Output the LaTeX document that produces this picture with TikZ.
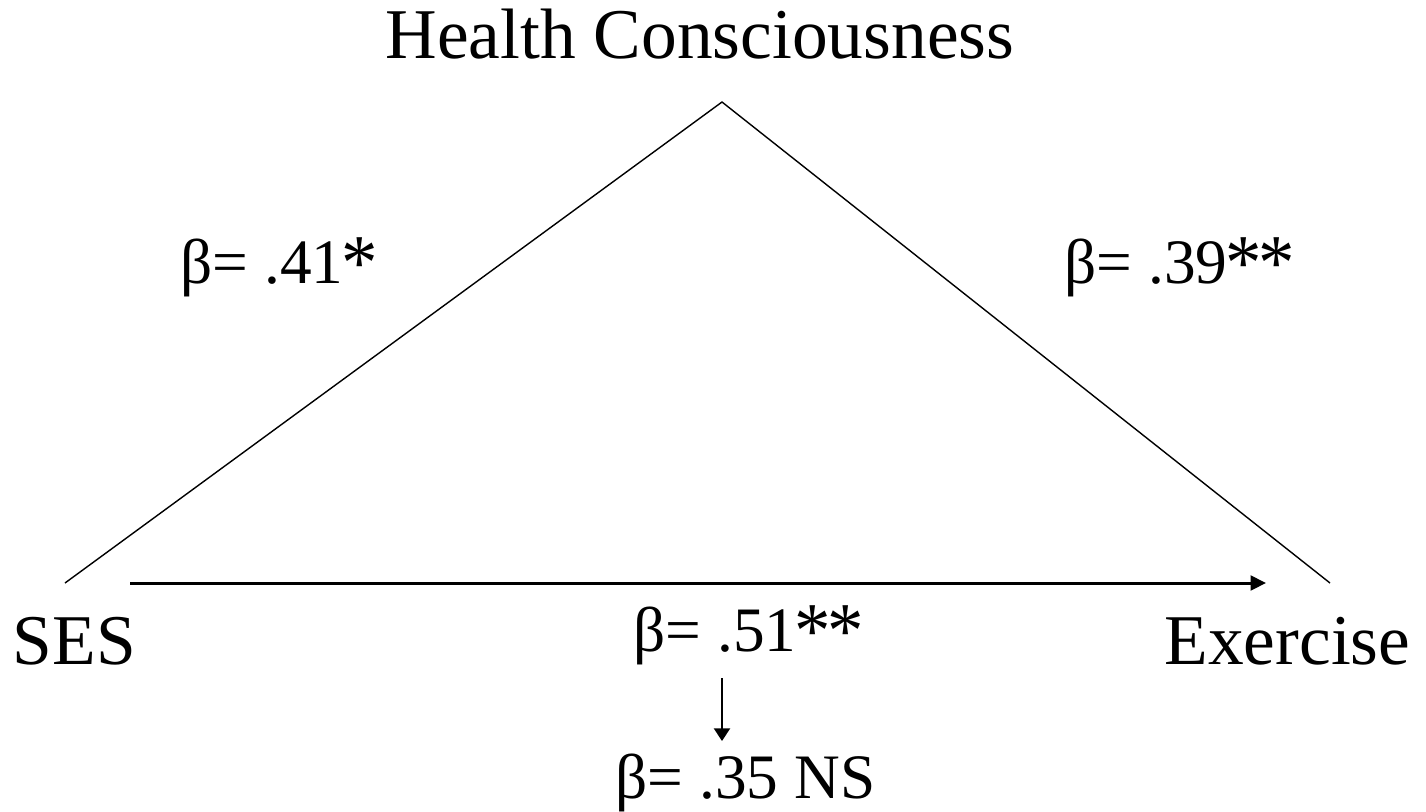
\documentclass[tikz,border=0pt]{standalone}
\usepackage{graphicx}
\usepackage{fontspec}
\setmainfont{Liberation Serif}
\usetikzlibrary{arrows.meta}
\newcommand{\sigstar}{\kern-0.04em\raisebox{-0.1em}{\scalebox{1.15}[1.25]{*}}}

\begin{document}
\begin{tikzpicture}[x=0.01cm, y=-0.01cm,
  lbl/.style={inner sep=0pt, font=\fontsize{20.3}{24}\selectfont},
  coef/.style={inner sep=0pt, font=\fontsize{18}{22}\selectfont},
  path/.style={line width=0.4pt},
  effect/.style={line width=0.85pt, -{Triangle[length=4.4pt, width=4.2pt]}},
  drop/.style={line width=0.45pt, -{Triangle[length=3.6pt, width=4.6pt]}}]
  \useasboundingbox (0,0) rectangle (1426,811);
  % corners of the triangle
  \coordinate (apex) at (722,102);
  \coordinate (sesend) at (65,583);
  \coordinate (exend) at (1330,583);
  \coordinate (from) at (130,583);
  \coordinate (to) at (1266,583);
  \coordinate (dtop) at (722,678);
  \coordinate (dbot) at (722,741);
  % labels
  \node[lbl, anchor=base] (hc) at (700,58) {Health Consciousness};
  \node[lbl, anchor=base west] (ses) at (12,664) {SES};
  \node[lbl, anchor=base east] (ex) at (1411,664) {Exercise};
  \node[coef, anchor=base west] (a) at (180,283) {β= .41\sigstar};
  \node[coef, anchor=base west] (b) at (1064,283) {β= .39\sigstar\sigstar};
  \node[coef, anchor=base west] (c) at (633,651) {β= .51\sigstar\sigstar};
  \node[coef, anchor=base west] (cp) at (615,798) {β= .35 NS};
  % paths
  \draw[path] (sesend) -- (apex) -- (exend);
  \draw[effect] (from) -- (to);
  \draw[drop] (dtop) -- (dbot);
\end{tikzpicture}
\end{document}
